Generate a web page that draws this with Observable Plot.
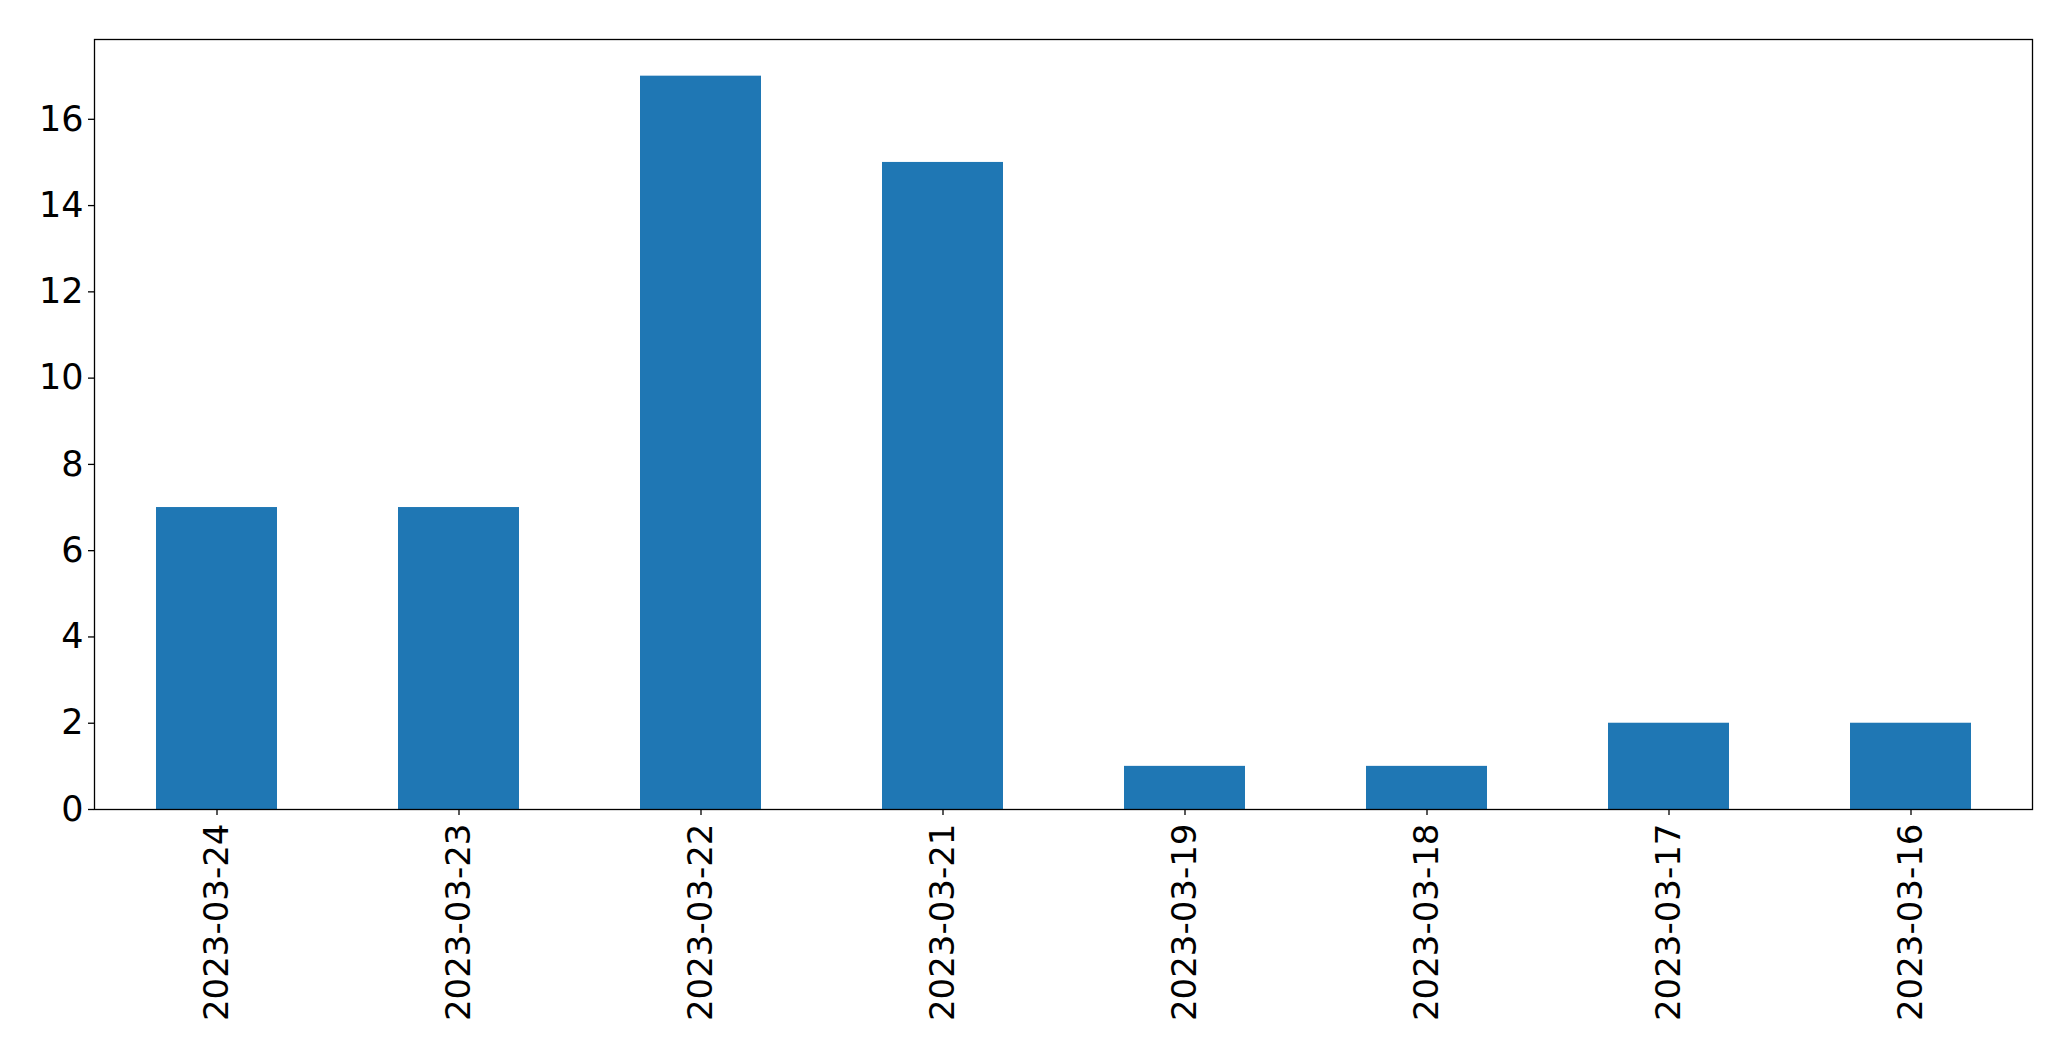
<!DOCTYPE html>
<html>
<head>
<meta charset="utf-8">
<script src="https://cdn.jsdelivr.net/npm/d3@7"></script>
<script src="https://cdn.jsdelivr.net/npm/@observablehq/plot@0.6"></script>
<style>
  html, body { margin: 0; padding: 0; background: #fff; }
  svg { display: block; }
</style>
</head>
<body>
<div id="chart"></div>
<script>
const dates = ["2023-03-24", "2023-03-23", "2023-03-22", "2023-03-21", "2023-03-19", "2023-03-18", "2023-03-17", "2023-03-16"];
const counts = [7, 7, 17, 15, 1, 1, 2, 2];
const yTicks = [0, 2, 4, 6, 8, 10, 12, 14, 16];

const data = dates.map((d, i) => ({date: d, count: counts[i]}));

const chart = Plot.plot({
  width: 2071,
  height: 1061,
  marginLeft: 94,
  marginRight: 39,
  marginTop: 39,
  marginBottom: 252,
  style: {fontFamily: "DejaVu Sans", fontSize: "35px", color: "#000", background: "#fff"},
  x: {domain: dates, paddingInner: 0.5, paddingOuter: 0.25, label: null},
  y: {domain: [0, 17.85], label: null},
  marks: [
    Plot.barY(data, {x: "date", y: "count", fill: "#1f77b4"}),
    Plot.frame({stroke: "#000", strokeWidth: 1.3}),
    Plot.axisY({ticks: yTicks, tickSize: 6, tickPadding: 5, label: null, fontSize: 35, strokeWidth: 1.3}),
    Plot.axisX({tickSize: 6, tickPadding: 8, tickRotate: -90, label: null, fontSize: 34, strokeWidth: 1.3})
  ]
});
document.getElementById("chart").appendChild(chart);
</script>
</body>
</html>
